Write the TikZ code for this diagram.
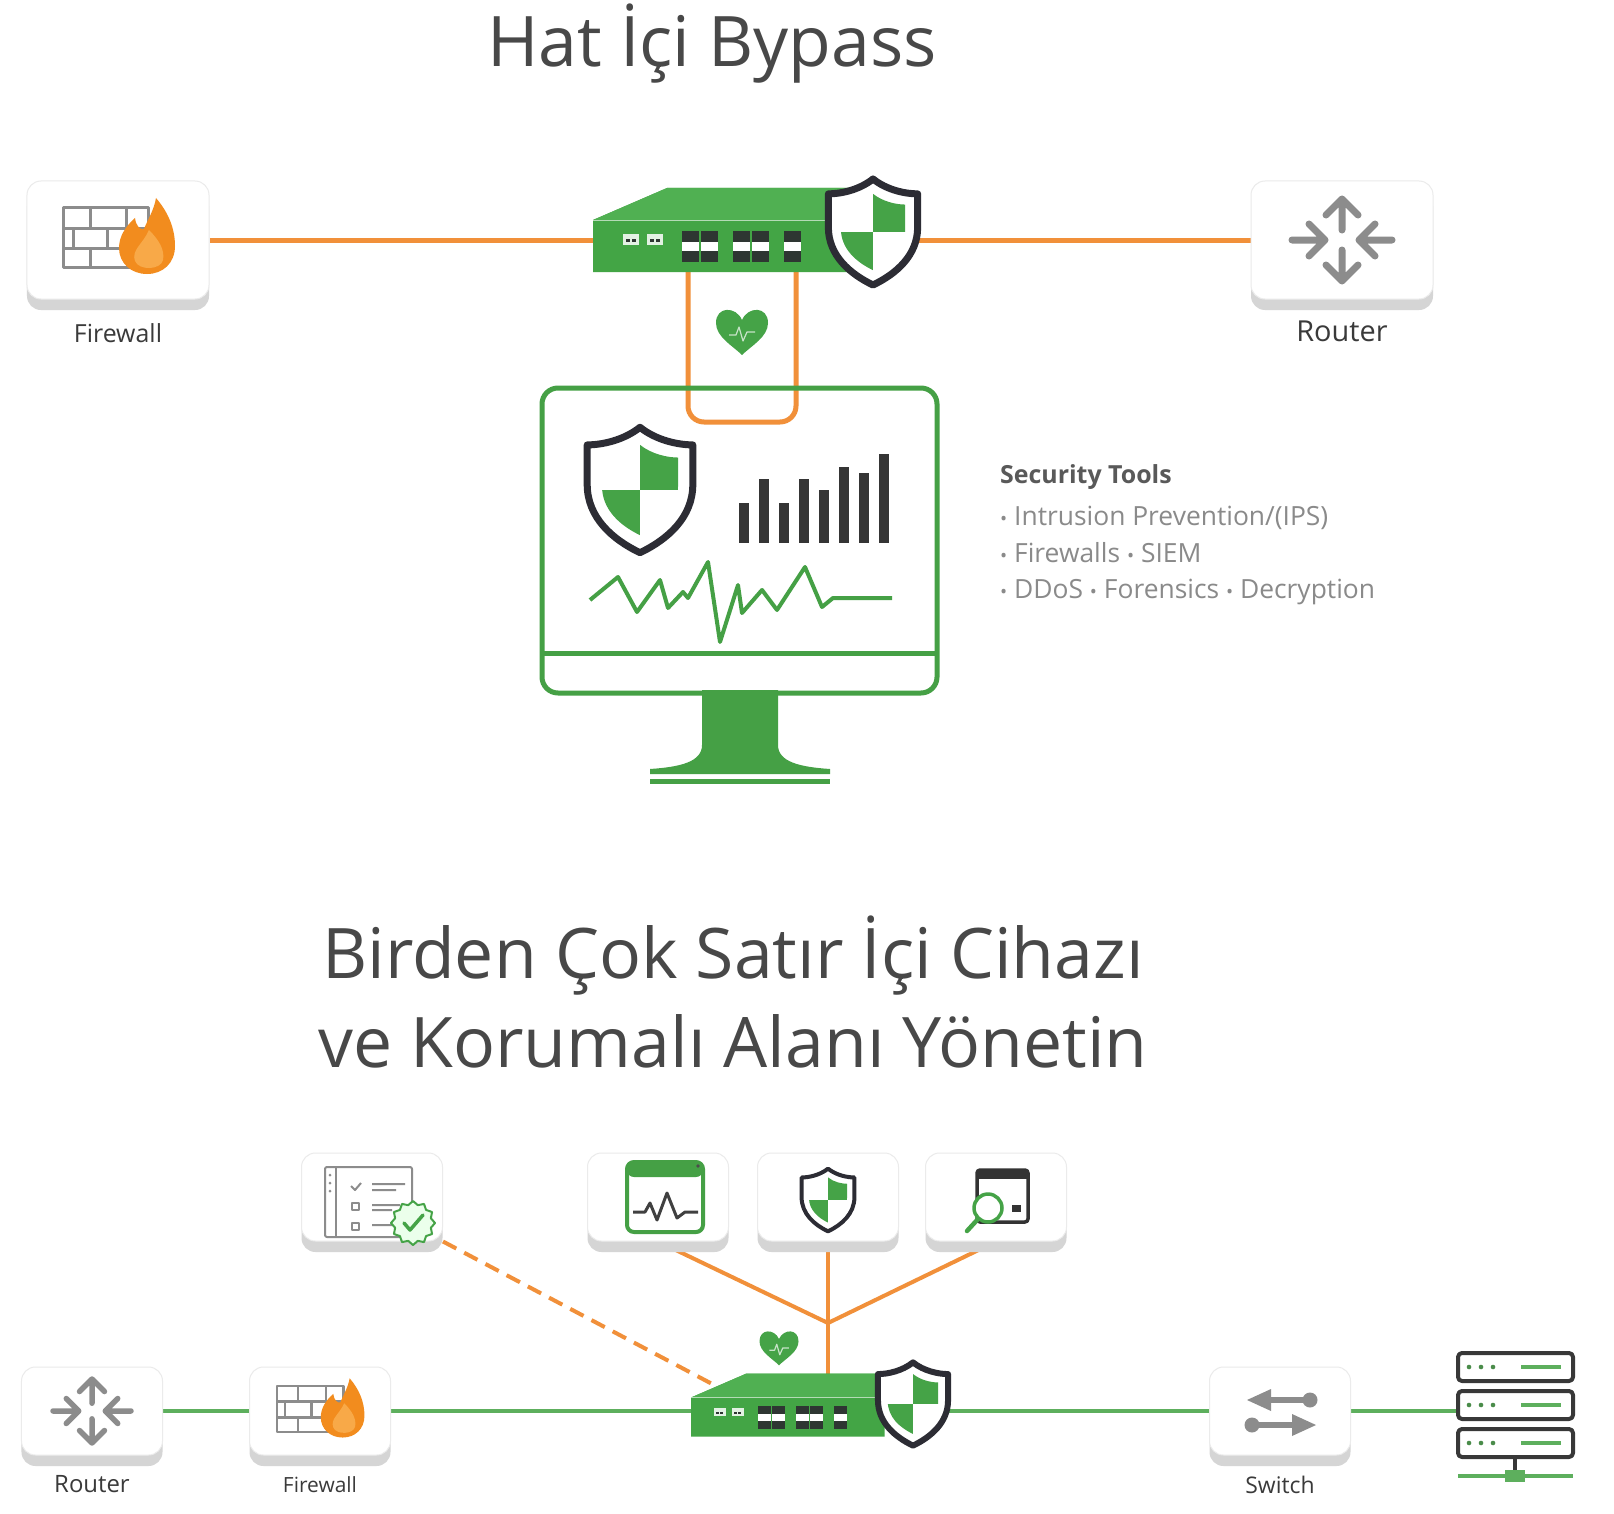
\documentclass[tikz,border=0pt]{standalone}
\usepackage{fontspec}
\setmainfont{Open Sans}
\usetikzlibrary{positioning, shadows, backgrounds}

\definecolor{appgreen}{HTML}{43A545}
\definecolor{apptop}{HTML}{50B052}
\definecolor{shieldgreen}{HTML}{45A347}
\definecolor{shieldline}{HTML}{2C2C34}
\definecolor{netgreen}{HTML}{5DAF5D}
\definecolor{scrgreen}{HTML}{45A045}
\definecolor{linkorange}{HTML}{F1903A}
\definecolor{flame}{HTML}{F28C1E}
\definecolor{flamelight}{HTML}{F8A948}
\definecolor{icongrey}{HTML}{8C8C8C}
\definecolor{portdark}{HTML}{2E3632}
\definecolor{boxshade}{HTML}{D5D5D5}
\definecolor{boxedge}{HTML}{EBEBEB}
\definecolor{titlegrey}{HTML}{484848}
\definecolor{labelgrey}{HTML}{3A3A3A}
\definecolor{toolgrey}{HTML}{8A8A8A}
\definecolor{bargrey}{HTML}{353535}

\newcommand\itemdot{{\fontsize{19}{19}\selectfont\textbullet}}

\tikzset{
  devbox/.style={draw=boxedge, line width=1bp, fill=white, rounded corners=14bp,
    drop shadow={shadow xshift=0bp, shadow yshift=-11bp, opacity=1, fill=boxshade}},
  bigbox/.style={devbox, minimum width=182bp, minimum height=118bp},
  smallbox/.style={devbox, minimum width=141bp, minimum height=88bp},
  title/.style={text=titlegrey, inner sep=0pt, font=\fontsize{70}{84}\selectfont},
  lbl/.style={text=labelgrey, inner sep=0pt},
  toolhead/.style={text=black!65, inner sep=0pt, font=\fontsize{25}{30}\selectfont\bfseries},
  toolitem/.style={text=toolgrey, inner sep=0pt, font=\fontsize{26.5}{31}\selectfont},
  link/.style={draw=linkorange, line width=5bp},
  net/.style={draw=netgreen, line width=4bp},
  screen/.style={draw=scrgreen, line width=5bp},
  srvline/.style={draw=black!78, line width=4bp, rounded corners=4bp},
  % grey router arrows, #1 = stroke width
  pics/router/.style={code={
    \begin{scope}[draw=icongrey, line width=#1, line cap=round, line join=round]
      \draw (0,-10) -- (0,-40) (-16,-25) -- (0,-41) -- (16,-25);
      \draw (0,10) -- (0,40) (-16,25) -- (0,41) -- (16,25);
      \draw (-50,0) -- (-18,0) (-33,-16) -- (-17,0) -- (-33,16);
      \draw (50,0) -- (18,0) (33,-16) -- (17,0) -- (33,16);
    \end{scope}
  }},
  % brick wall with a flame
  pics/firewall/.style={code={
    \draw[icongrey, line width=#1, fill=white] (-55,-32) rectangle (30,27);
    \draw[icongrey, line width=#1] (-55,-12) -- (30,-12) (-55,8) -- (30,8)
      (-28,-32) -- (-28,-12) (8,-32) -- (8,-12)
      (-45,-12) -- (-45,8) (-11,-12) -- (-11,8)
      (-28,8) -- (-28,27);
    \fill[flame] (38,-42) .. controls (50,-28) and (57,-12) .. (57,6)
      .. controls (57,23) and (45,34) .. (29,34) .. controls (13,34) and (1,23) .. (1,8)
      .. controls (1,-4) and (8,-14) .. (17,-22) .. controls (18,-14) and (22,-10) .. (26,-11)
      .. controls (30,-21) and (36,-30) .. (38,-42) -- cycle;
    \fill[flamelight] (31,-10) .. controls (41,0) and (47,10) .. (45,20)
      .. controls (43,30) and (21,31) .. (17,21) .. controls (13,10) and (25,4) .. (31,-10) -- cycle;
  }},
  % shield with two green quarters, #1 = outline width
  pics/shield/.style={code={
    \fill[white] (0,-57) .. controls (15,-45) and (35,-41) .. (48,-41) -- (48,-5)
      .. controls (48,25) and (25,45) .. (0,57) .. controls (-25,45) and (-48,25) .. (-48,-5)
      -- (-48,-41) .. controls (-35,-41) and (-15,-45) .. (0,-57) -- cycle;
    \begin{scope}
      \clip[scale=0.72] (0,-57) .. controls (15,-45) and (35,-41) .. (48,-41) -- (48,-5)
        .. controls (48,25) and (25,45) .. (0,57) .. controls (-25,45) and (-48,25) .. (-48,-5)
        -- (-48,-41) .. controls (-35,-41) and (-15,-45) .. (0,-57) -- cycle;
      \fill[shieldgreen] (0,-60) rectangle (60,0);
      \fill[shieldgreen] (-60,0) rectangle (0,60);
    \end{scope}
    \draw[shieldline, line width=#1] (0,-57) .. controls (15,-45) and (35,-41) .. (48,-41) -- (48,-5)
      .. controls (48,25) and (25,45) .. (0,57) .. controls (-25,45) and (-48,25) .. (-48,-5)
      -- (-48,-41) .. controls (-35,-41) and (-15,-45) .. (0,-57) -- cycle;
  }},
  pics/heart/.style={code={
    \fill[shieldgreen] (0,-12) .. controls (-6,-26) and (-26,-26) .. (-26,-9)
      .. controls (-26,5) and (-9,14) .. (0,23) .. controls (9,14) and (26,5) .. (26,-9)
      .. controls (26,-26) and (6,-26) .. (0,-12) -- cycle;
    \draw[white!70!shieldgreen, line width=1.2bp] (-13,3) -- (-6,3) -- (-3,-5) -- (1,9) -- (5,0) -- (13,0);
  }},
  % bypass appliance, front ports
  pics/appliance/.style={code={
    \fill[appgreen] (-128,-10) -- (-54,-42) -- (130,-42) -- (130,42) -- (-128,42) -- cycle;
    \fill[apptop] (-128,-10) -- (-54,-42) -- (130,-42) -- (130,-10) -- cycle;
    \draw[white!60!appgreen, line width=1bp] (-128,-10) -- (130,-10);
    \foreach \x in {-98,-74} {
      \fill[white!85!appgreen] (\x,4) rectangle ++(16,11);
      \fill[portdark] (\x+3,9) rectangle ++(4,3);
      \fill[portdark] (\x+9,9) rectangle ++(4,3);
    }
    \foreach \x in {-39,-20,12,31,63} {
      \fill[white] (\x,12) rectangle ++(17,9);
      \fill[portdark] (\x,1) rectangle ++(17,11);
      \fill[portdark] (\x,21) rectangle ++(17,11);
    }
  }},
}

\begin{document}
\begin{tikzpicture}[x=1bp, y=-1bp, line join=round]
\useasboundingbox (0,0) rectangle (1614,1514);

% headings
\node[title, anchor=base] (ttlA) at (712,67) {Hat İçi Bypass};
\node[title, anchor=base] (ttlB) at (733,978) {Birden Çok Satır İçi Cihazı};
\node[title, anchor=base] (ttlC) at (733,1067) {ve Korumalı Alanı Yönetin};

% ---- inline bypass ----
\node[bigbox] (fwA) at (118,240) {};
\node[bigbox] (rtA) at (1342,240) {};
\node[lbl, font=\fontsize{25}{30}\selectfont, below=24bp of fwA] {Firewall};
\node[lbl, font=\fontsize{29}{34}\selectfont, below=21bp of rtA] {Router};
\pic at (fwA) {firewall=3bp};
\pic at (rtA) {router=7bp};

\coordinate (appA) at (721,230);
\coordinate (portL) at (688,265);
\coordinate (portR) at (796,265);

% monitor with the tools
\draw[screen, rounded corners=16bp] (542,388) rectangle (937,693);
\draw[screen] (542,653) -- (937,653);
\fill[scrgreen] (702,690) -- (702,745) .. controls (702,762) and (680,767) .. (650,769)
  -- (650,774) -- (830,774) -- (830,769) .. controls (800,767) and (778,762) .. (778,745)
  -- (778,690) -- cycle;
\draw[scrgreen, line width=5bp] (650,781) -- (830,781);
\pic[scale=1.1] at (640,490) {shield=7bp};
\foreach \bx/\by in {739/503, 759/479, 779/503, 799/479, 819/490, 839/467, 859/473, 879/454}
  \fill[bargrey] (\bx,\by) rectangle (\bx+10,543);
\draw[scrgreen, line width=4bp] (590,600) -- (618,577) -- (637,612) -- (660,580) -- (668,608)
  -- (683,592) -- (688,598) -- (708,562) -- (720,642) -- (738,585) -- (742,613) -- (762,590)
  -- (777,610) -- (805,567) -- (822,607) -- (833,598) -- (892,598);

\pic at (appA) {appliance};
\pic[scale=0.93] at (873,232) {shield=7bp};
\pic at (742,332) {heart};

\node[toolhead, anchor=base west] (tools) at (1000,483) {Security Tools};
\node[toolitem, anchor=base west] (toolA) at (1000,525) {\itemdot{} Intrusion Prevention/(IPS)};
\node[toolitem, anchor=base west] (toolB) at (1000,562) {\itemdot{} Firewalls \itemdot{} SIEM};
\node[toolitem, anchor=base west] (toolC) at (1000,598) {\itemdot{} DDoS \itemdot{} Forensics \itemdot{} Decryption};

% ---- several inline devices ----
\node[smallbox] (chkB) at (372,1197) {};
\node[smallbox] (monB) at (658,1197) {};
\node[smallbox] (shB) at (828,1197) {};
\node[smallbox] (srchB) at (996,1197) {};
\node[smallbox] (rtB) at (92,1411) {};
\node[smallbox] (fwB) at (320,1411) {};
\node[smallbox] (swB) at (1280,1411) {};
\node[lbl, font=\fontsize{24}{28}\selectfont, below=20bp of rtB] {Router};
\node[lbl, font=\fontsize{21}{25}\selectfont, below=21bp of fwB] {Firewall};
\node[lbl, font=\fontsize{23}{27}\selectfont, below=20bp of swB] {Switch};
\node[inner sep=0pt, minimum width=115bp, minimum height=28bp] (srv) at (1515,1405) {};

\coordinate (appB) at (787,1405);
\coordinate (jn) at (828,1323);
\coordinate (appBtop) at (828,1380);
\coordinate (appBnw) at (716,1386);

\pic[scale=0.78] at (rtB) {router=5.5bp};
\pic[scale=0.78] at (fwB) {firewall=2.5bp};

% checklist with a badge
\begin{scope}[shift={(chkB)}]
  \draw[icongrey, line width=2bp, rounded corners=2bp] (-47,-30) rectangle (40,40);
  \draw[icongrey, line width=1.5bp] (-36,-30) -- (-36,40);
  \foreach \dy in {-22,-14,-6}
    \fill[icongrey] (-42,\dy) circle (1.5bp);
  \draw[icongrey, line width=2bp] (-21,-11) -- (-17,-7) -- (-11,-14)
    (0,-13) -- (33,-13) (0,-7) -- (24,-7)
    (0,8) -- (28,8) (0,13) -- (20,13) (0,28) -- (20,28);
  \draw[icongrey, line width=2bp] (-20,6) rectangle (-13,13) (-20,26) rectangle (-13,33);
  \begin{scope}[shift={(41,26)}]
    \draw[shieldgreen, line width=2bp, fill=green!8] (0:22)
      \foreach \a in {0,30,...,330} { -- (\a:22) -- (\a+15:18.5) } -- cycle;
    \draw[shieldgreen, line width=3.5bp, line cap=round] (-9,0) -- (-3,7) -- (10,-8);
  \end{scope}
\end{scope}

% activity window
\begin{scope}[shift={(monB)}]
  \draw[scrgreen, line width=4bp, rounded corners=7bp] (-31,-35) rectangle (45,35);
  \fill[scrgreen, rounded corners=7bp] (-31,-20) -- (-31,-35) -- (45,-35) -- (45,-20) -- cycle;
  \fill[black!70] (40,-31) circle (1.8bp);
  \draw[black!75, line width=3bp] (-25,15) -- (-13,15) -- (-8,6) -- (-1,23) -- (9,-4)
    -- (19,21) -- (27,15) -- (40,15);
\end{scope}

\pic[scale=0.55] at (828,1200) {shield=4bp};

% window with a magnifier
\begin{scope}[shift={(srchB)}]
  \draw[black!80, line width=3.5bp, rounded corners=3bp] (-19,-27) rectangle (32,25);
  \fill[black!80] (-19,-27) rectangle (32,-18);
  \fill[black!80] (16,8) rectangle (25,15);
  \draw[shieldgreen, line width=3.5bp, fill=white] (-8,11) circle (14bp);
  \draw[shieldgreen, line width=4.5bp, line cap=round] (-18,22) -- (-29,34);
\end{scope}

% switch arrows
\begin{scope}[shift={(swB)}, icongrey]
  \fill (-33,-11) -- (-9,-22) -- (-9,0) -- cycle;
  \fill (-10,-14) rectangle (30,-8);
  \fill (30,-11) circle (7.5bp);
  \fill (36,14) -- (12,3) -- (12,25) -- cycle;
  \fill (-28,11) rectangle (13,17);
  \fill (-28,14) circle (7.5bp);
\end{scope}

% server stack
\foreach \sy in {1367,1405,1443} {
  \draw[srvline, fill=white] (1458,\sy-14) rectangle (1573,\sy+14);
  \foreach \dx in {1469,1481,1493}
    \fill[netgreen!80!black] (\dx,\sy) circle (2.3bp);
  \draw[netgreen, line width=4bp] (1521,\sy) -- (1561,\sy);
}
\draw[black!78, line width=4bp] (1515,1457) -- (1515,1474);
\draw[netgreen, line width=4bp] (1458,1476) -- (1573,1476);
\fill[netgreen] (1505,1470) rectangle (1525,1482);

\pic[scale=0.75] at (appB) {appliance};
\pic[scale=0.73] at (913,1404) {shield=6bp};
\pic[scale=0.75] at (779,1348) {heart};

% connectors
\begin{pgfonlayer}{background}
  \fill[white] (0,0) rectangle (1614,1514);
  \draw[link] (fwA) -- (rtA);
  \draw[link, rounded corners=16bp] (portL) -- ++(0,157) -| (portR);
  \draw[net] (rtB) -- (fwB);
  \draw[net] (fwB) -- (swB);
  \draw[net] (swB) -- (swB -| srv.west);
  \draw[link, line width=4bp] (monB.south) -- (jn) -- (srchB.south);
  \draw[link, line width=4bp] (shB.south) -- (appBtop);
  \draw[link, line width=4bp, dash pattern=on 15bp off 9bp] (chkB.south east) -- (appBnw);
\end{pgfonlayer}
\end{tikzpicture}
\end{document}
